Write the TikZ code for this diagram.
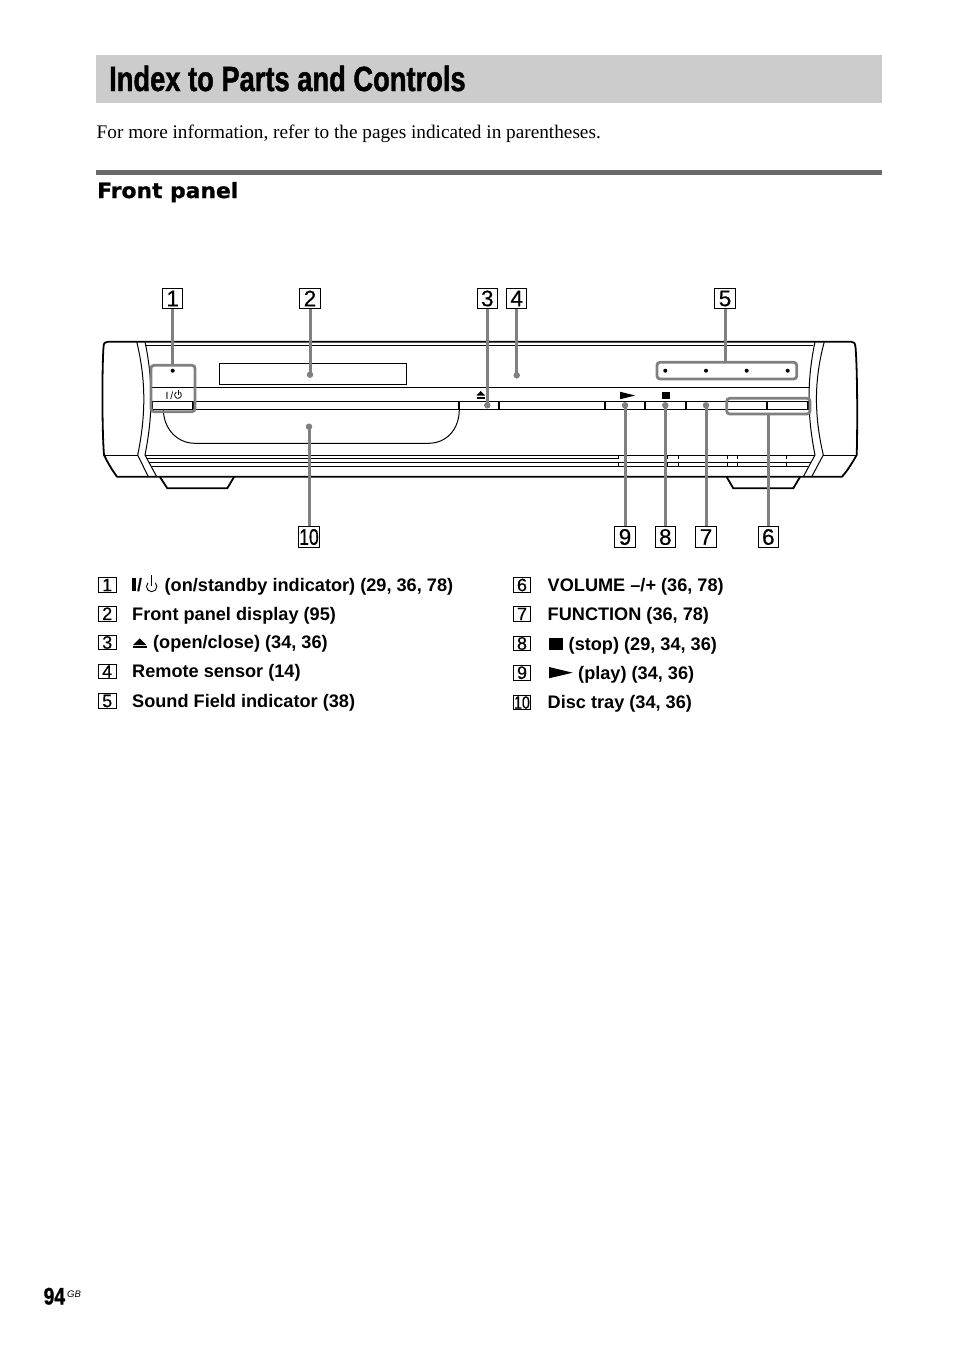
\documentclass[tikz,border=0pt]{standalone}
\usepackage{fontspec}
\setmainfont{Liberation Sans}
\newfontfamily\titlefont[FakeStretch=0.78,FakeBold=1.2]{Liberation Sans}
\newfontfamily\folfont[FakeStretch=0.8,FakeBold=0.8]{Liberation Sans}
\newfontfamily\serifbody{Liberation Serif}
\newfontfamily\headfont[FakeStretch=1.04,FakeBold=1]{DejaVu Sans}
\newfontfamily\digfont[FakeBold=0.5]{Liberation Sans}
\newfontfamily\tenfont[FakeBold=0.5,FakeStretch=0.78]{Liberation Sans}
\definecolor{leadgray}{HTML}{808080}
\tikzset{
  x=1pt,y=-1pt,
  thinl/.style={line width=1pt,black},
  thickl/.style={line width=1.8pt,black,line join=round},
  lab/.style={draw=black,line width=1pt,inner sep=0pt,minimum width=20.5pt,minimum height=20.5pt,font=\digfont\fontsize{22.5}{22.5}\selectfont},
  lbox/.style={draw=black,line width=0.9pt,inner sep=0pt,minimum width=17.5pt,minimum height=14.5pt,font=\digfont\fontsize{18}{18}\selectfont},
  item/.style={anchor=base west,inner sep=0pt,font=\fontsize{18.15}{18.15}\selectfont\bfseries},
  leadl/.style={draw=leadgray,line width=3pt},
  leddot/.style={circle,fill=black,inner sep=0pt,minimum size=4pt},
  graydot/.style={circle,fill=leadgray,inner sep=0pt,minimum size=6.5pt},
  grayframe/.style={draw=leadgray,line width=2.8pt,rounded corners=3pt,inner sep=0pt},
}
\begin{document}
\begin{tikzpicture}
\useasboundingbox (0,0) rectangle (954,1352);
% heading
\fill[black!20] (96,55) rectangle (882,103);
\node[anchor=base west,inner sep=0pt,font=\titlefont\fontsize{35}{35}\selectfont\bfseries] (title) at (109,91) {Index to Parts and Controls};
\node[anchor=base west,inner sep=0pt,font=\serifbody\fontsize{19.25}{19.25}\selectfont] (intro) at (96.5,138) {For more information, refer to the pages indicated in parentheses.};
\fill[black!58] (96,170) rectangle (882,175);
\node[anchor=base west,inner sep=0pt,font=\headfont\fontsize{21}{21}\selectfont\bfseries] (head) at (97,198) {Front panel};
% body outline
\draw[thickl] (117,476.7) .. controls (112,470) and (108,463) .. (104,455) .. controls (102,430) and (102,370) .. (103.5,347) .. controls (103.7,343) and (105,341.7) .. (108,341.7) -- (851,341.7) .. controls (854,341.7) and (855,343) .. (855.5,347) .. controls (857.5,370) and (857.5,430) .. (856.7,455) .. controls (852,463) and (848,470) .. (842,476.7) -- cycle;
\draw[thinl] (145,345.3) -- (813,345.3);
\draw[thinl] (150.5,387.3) -- (810,387.3);
\draw[thinl] (152,401.3) -- (810,401.3);
\draw[thickl] (152,409.5) -- (808,409.5);
% end caps
\draw[thinl] (136.7,341.7) .. controls (146,380) and (146,415) .. (137.7,455) -- (148.3,476.7);
\draw[thinl] (145,341.7) .. controls (153,380) and (153,415) .. (145,455) -- (156.7,476.7);
\draw[thinl] (815,341.7) .. controls (807,380) and (807,415) .. (815,455) -- (803.3,476.7);
\draw[thinl] (824.3,341.7) .. controls (814,380) and (814,415) .. (823.3,455) -- (811.7,476.7);
\draw[thinl] (104,455) -- (137.7,455);
\draw[thinl] (823.3,455) -- (856.7,455);
% bands
\draw[thinl] (145,455) -- (815,455);
\draw[thinl] (147,458.5) -- (618.3,458.5);
\draw[thinl] (149,462.5) -- (811,462.5);
\draw[thinl] (152,466.5) -- (808,466.5);
\foreach \tx in {618.3,667.3,678.3,727.7,737.3,786.7}{
  \draw[thinl] (\tx,455) -- (\tx,458.5);
  \draw[thinl] (\tx,462.5) -- (\tx,466.5);
}
% feet
\draw[thickl] (160,477) -- (167.3,488.3) -- (227.3,488.3) -- (234,477);
\draw[thickl] (726.7,477) -- (733.3,488.3) -- (793.3,488.3) -- (800,477);
% display and tray
\node[draw=black,line width=1pt,minimum width=187.4pt,minimum height=21.4pt,inner sep=0pt] (display) at (313,374) {};
\draw[thinl] (163.3,410) .. controls (164,430) and (178,443.3) .. (195,443.3) -- (428.3,443.3) .. controls (446,443.3) and (459,430) .. (459.3,410);
% buttons
\foreach \a/\b in {152.3/192.7,459.3/499.3,605/645,645/686,686/726.7,726.7/767.3,767.3/808}{
  \draw[thickl] (\a,401.6) -- (\a,409.5);
  \draw[thickl] (\a,409.5) -- (\b,409.5);
  \draw[line width=1.1pt] (\a,401.6) -- (\b,401.6);
  \draw[thickl] (\b,401.6) -- (\b,409.5);
}
% panel symbols
\node[inner sep=0pt,font=\fontsize{10.5}{10.5}\selectfont] (pwrI) at (169.5,395.3) {I\,/};
\draw[line width=0.8pt] (176.3,392.06) arc[start angle=120,end angle=420,radius=3.4pt];
\draw[line width=0.8pt] (178,390) -- (178,395);
\fill (476.5,395.5) -- (480.7,391) -- (485,395.5) -- cycle;
\fill (476.5,396.8) rectangle (485,398.8);
\fill (620,391.7) -- (635,395.5) -- (620,399.3) -- cycle;
\fill (661.7,391.7) rectangle (670,399.3);
% leds
\node[leddot] (led1) at (172.7,370.7) {};
\node[leddot] (ledA) at (665.3,370.7) {};
\node[leddot] (ledB) at (706,370.7) {};
\node[leddot] (ledC) at (746.7,370.7) {};
\node[leddot] (ledD) at (787.7,370.7) {};
% gray frames
\node[grayframe,minimum width=44pt,minimum height=46.4pt] (fr1) at (173,388.5) {};
\node[grayframe,minimum width=139.7pt,minimum height=16.7pt] (fr5) at (726.85,370.65) {};
\node[grayframe,minimum width=83.3pt,minimum height=15.7pt] (fr6) at (768.35,406.15) {};
% gray dots
\node[graydot] (d2) at (310,374.7) {};
\node[graydot] (d3) at (487.3,405.3) {};
\node[graydot] (d4) at (516.7,375.3) {};
\node[graydot] (d7) at (706,405.3) {};
\node[graydot] (d8) at (665.3,405.3) {};
\node[graydot] (d9) at (625,405.3) {};
\node[graydot] (d10) at (309,426.7) {};
% callout labels
\node[lab] (l1) at (172.7,298.5) {1};
\node[lab] (l2) at (310,298.5) {2};
\node[lab] (l3) at (487.3,298.5) {3};
\node[lab] (l4) at (516.7,298.5) {4};
\node[lab] (l5) at (725,298.5) {5};
\node[lab] (l6) at (768.3,537) {6};
\node[lab] (l7) at (706,537) {7};
\node[lab] (l8) at (665.3,537) {8};
\node[lab] (l9) at (625,537) {9};
\node[lab,font=\tenfont\fontsize{22.5}{22.5}\selectfont] (l10) at (309,537) {10};
% leaders
\draw[leadl] (l1.south) -- (l1.south |- fr1.north);
\draw[leadl] (l2.south) -- (d2.center);
\draw[leadl] (l3.south) -- (d3.center);
\draw[leadl] (l4.south) -- (d4.center);
\draw[leadl] (l5.south) -- (l5.south |- fr5.north);
\draw[leadl] (l6.north) -- (l6.north |- fr6.south);
\draw[leadl] (l7.north) -- (d7.center);
\draw[leadl] (l8.north) -- (d8.center);
\draw[leadl] (l9.north) -- (d9.center);
\draw[leadl] (l10.north) -- (d10.center);
% list left
\node[lbox] (b1) at (107.2,585) {1};
\node[lbox] (b2) at (107.2,613.7) {2};
\node[lbox] (b3) at (107.2,642.5) {3};
\node[lbox] (b4) at (107.2,671.5) {4};
\node[lbox] (b5) at (107.2,701) {5};
\node[item] (t1a) at (132,591) {I/};
\fill (132,577.5) rectangle (135.5,591);
\draw[line width=0.9pt] (148,582.8) arc[start angle=135,end angle=405,radius=5.2pt];
\draw[line width=0.9pt] (151.7,575) -- (151.7,586);
\node[item] (t1) at (164.5,591) {(on/standby indicator) (29, 36, 78)};
\node[item] (t2) at (132,620) {Front panel display (95)};
\fill (133,645) -- (139.7,638.3) -- (146.5,645) -- cycle;
\fill (133,646.3) rectangle (146.5,648.3);
\node[item] (t3) at (153,648.5) {(open/close) (34, 36)};
\node[item] (t4) at (132,677.3) {Remote sensor (14)};
\node[item] (t5) at (132,707.3) {Sound Field indicator (38)};
% list right
\node[lbox] (b6) at (522,585) {6};
\node[lbox] (b7) at (522,614) {7};
\node[lbox] (b8) at (522,643.5) {8};
\node[lbox] (b9) at (522,672.7) {9};
\node[lbox,font=\tenfont\fontsize{18}{18}\selectfont] (b10) at (522,702.5) {10};
\node[item] (t6) at (547.5,591) {VOLUME –/+ (36, 78)};
\node[item] (t7) at (547.5,620) {FUNCTION (36, 78)};
\fill (549,638) rectangle (563,650);
\node[item] (t8) at (568.5,650) {(stop) (29, 34, 36)};
\fill (549,667) -- (572.7,672.7) -- (549,678.3) -- cycle;
\node[item] (t9) at (578,679) {(play) (34, 36)};
\node[item] (t10) at (547.5,708.5) {Disc tray (34, 36)};
% folio
\node[anchor=base west,inner sep=0pt,font=\folfont\fontsize{24}{24}\selectfont\bfseries] (folio) at (43.5,1304.5) {94};
\node[anchor=base west,inner sep=0pt,font=\fontsize{9.5}{9.5}\selectfont\itshape] (gb) at (67,1297.5) {GB};
\end{tikzpicture}
\end{document}
